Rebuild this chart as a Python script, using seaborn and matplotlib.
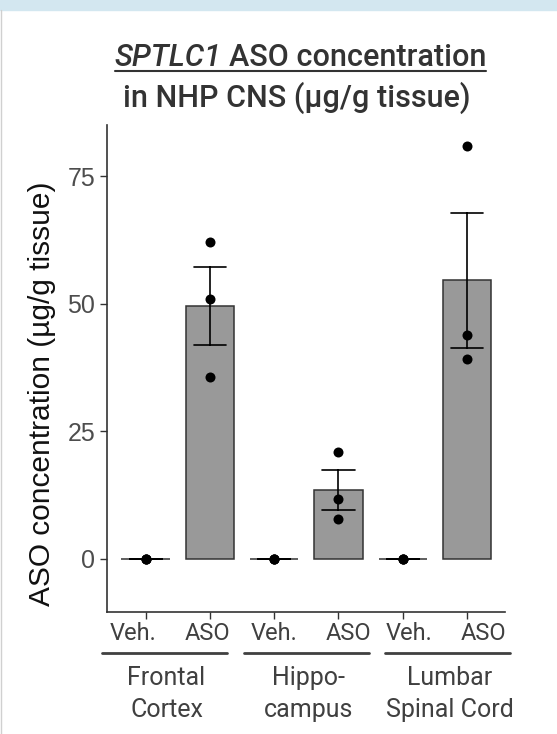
import numpy as np
import pandas as pd
import matplotlib
matplotlib.use("Agg")
import matplotlib.pyplot as plt
from matplotlib.lines import Line2D
from matplotlib.patches import Rectangle
import seaborn as sns

W, H = 557, 734

bar_keys = ["fc_veh", "fc_aso", "hc_veh", "hc_aso", "lsc_veh", "lsc_aso"]
bar_labels = ["Veh.", "ASO", "Veh.", "ASO", "Veh.", "ASO"]
region_labels = ["Frontal\nCortex", "Hippo-\ncampus", "Lumbar\nSpinal Cord"]

# ug/g tissue, n=3 animals per bar
fc_veh = [0.0, 0.0, 0.0]
fc_aso = [62.1, 50.9, 35.7]
hc_veh = [0.0, 0.0, 0.0]
hc_aso = [20.9, 11.7, 7.9]
lsc_veh = [0.0, 0.0, 0.0]
lsc_aso = [80.8, 43.8, 39.1]
y_ticks = [0, 25, 50, 75]

vals = [fc_veh, fc_aso, hc_veh, hc_aso, lsc_veh, lsc_aso]
df = pd.DataFrame({
    "bar": np.repeat(bar_keys, [len(v) for v in vals]),
    "conc": np.concatenate(vals),
})

sns.set_theme(style="ticks")
plt.rcParams["font.family"] = ["Roboto", "DejaVu Sans"]


def fx(x):
    return x / W


def fy(y):
    return 1 - y / H


fig = plt.figure(figsize=(W / 100, H / 100), dpi=100)
fig.patch.set_facecolor("white")
# light blue band on top and thin grey edge on the left
fig.add_artist(Rectangle((0, fy(10)), 1, 10 / H, transform=fig.transFigure,
                         color="#d3e7f0", zorder=0))
fig.add_artist(Line2D([fx(0.5), fx(0.5)], [0, fy(10)], transform=fig.transFigure,
                      color="#d0d0d0", lw=1))

ax = fig.add_axes([fx(107), fy(612), (505 - 107) / W, (612 - 125) / H])

sns.barplot(data=df, x="bar", y="conc", order=bar_keys, errorbar="se",
            capsize=0.5, width=0.75, color="#999999", saturation=1,
            edgecolor="#333333", linewidth=1.1,
            err_kws={"color": "black", "linewidth": 1.2}, ax=ax)
sns.stripplot(data=df, x="bar", y="conc", order=bar_keys, jitter=False,
              color="black", size=7.2, ax=ax, zorder=4)

ax.set_xlim(-0.6, 5.59)
ax.set_ylim(-10.4, 85)
ax.set_yticks(y_ticks)
ax.set_xticks(range(len(bar_keys)))
ax.set_xticklabels([])
ax.set_xlabel("")
ax.set_ylabel("ASO concentration (µg/g tissue)", fontsize=21.5,
              family="Liberation Sans", color="#111111")
ax.yaxis.set_label_coords(-0.127, 0.449)
ax.tick_params(axis="y", labelsize=18, labelcolor="#4d4d4d", length=5,
               width=1, color="#333333", pad=3.5)
ax.tick_params(axis="x", length=5, width=1, color="#333333")
for lab in ax.get_yticklabels():
    lab.set_family("Liberation Sans")
sns.despine(ax=ax)
for s in ["left", "bottom"]:
    ax.spines[s].set_color("#333333")
    ax.spines[s].set_linewidth(1.2)

# bar labels (placed like the slide overlay)
lab_x = [133, 207, 274, 348, 409, 483]
for x, t in zip(lab_x, bar_labels):
    fig.text(fx(x), fy(640), t, ha="center", va="baseline", fontsize=17,
             color="#404040")

# region brackets and names
brackets = [(102, 227), (244, 369), (385, 510)]
for (x0, x1), name in zip(brackets, region_labels):
    fig.add_artist(Line2D([fx(x0), fx(x1)], [fy(653), fy(653)],
                          transform=fig.transFigure, color="#404040", lw=2))
    l1, l2 = name.split("\n")
    cx = (x0 + x1) / 2 + 2
    fig.text(fx(cx), fy(685), l1, ha="center", va="baseline", fontsize=18,
             color="#404040")
    fig.text(fx(cx), fy(717), l2, ha="center", va="baseline", fontsize=18,
             color="#404040")

# title, first line mixes italic gene name and underline
tsize = 22
t1 = fig.text(0, fy(66.5), "SPTLC1", style="italic", fontsize=tsize,
              weight="medium", va="baseline", color="#333333")
t2 = fig.text(0, fy(66.5), "ASO concentration", fontsize=tsize,
              weight="medium", va="baseline", color="#333333")
r = fig.canvas.get_renderer()
w1 = t1.get_window_extent(r).width
w2 = t2.get_window_extent(r).width
gap = 7
total = w1 + gap + w2
x_start = 300.5 - total / 2
t1.set_x(fx(x_start))
t2.set_x(fx(x_start + w1 + gap))
fig.add_artist(Line2D([fx(x_start), fx(x_start + total)], [fy(70.5), fy(70.5)],
                      transform=fig.transFigure, color="#333333", lw=1.5))
fig.text(fx(296.5), fy(106.5), "in NHP CNS (µg/g tissue)", ha="center",
         va="baseline", fontsize=tsize, weight="medium", color="#333333")

fig.savefig("out.png", dpi=100)
